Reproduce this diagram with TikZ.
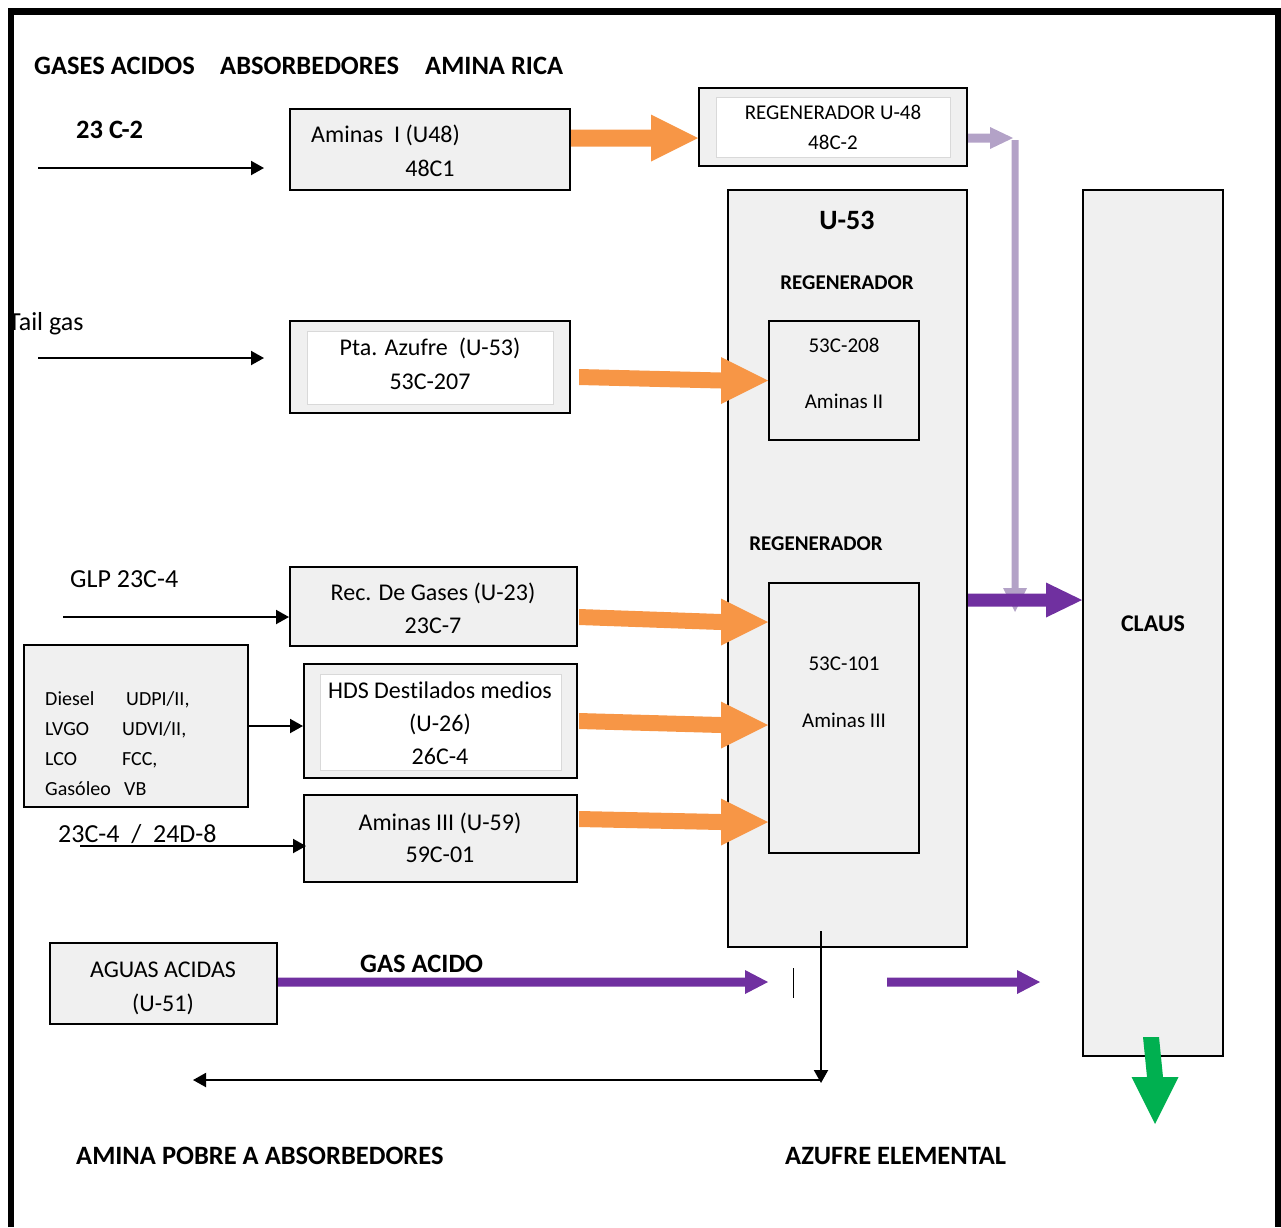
\documentclass[tikz,border=0pt]{standalone}
\usepackage{fontspec}
\setmainfont[Ligatures=NoCommon]{Carlito}
\usetikzlibrary{arrows.meta,calc}
\definecolor{boxgray}{HTML}{F0F0F0}
\definecolor{innergray}{HTML}{D9D9D9}
\definecolor{orangeA}{HTML}{F79646}
\definecolor{purpleA}{HTML}{7030A0}
\definecolor{lilacA}{HTML}{B3A2C7}
\definecolor{greenA}{HTML}{00B050}
% block arrow, horizontal (pointing right): from, to, colour, shaft half, head length, head half
\newcommand\blockH[6]{\fill[#3] ($(#1)+(0,#4)$) -- ($(#2)+(-#5,#4)$) -- ($(#2)+(-#5,#6)$) -- (#2) -- ($(#2)+(-#5,-#6)$) -- ($(#2)+(-#5,-#4)$) -- ($(#1)+(0,-#4)$) -- cycle;}
% block arrow, vertical (pointing down)
\newcommand\blockV[6]{\fill[#3] ($(#1)+(-#4,0)$) -- ($(#2)+(-#4,-#5)$) -- ($(#2)+(-#6,-#5)$) -- (#2) -- ($(#2)+(#6,-#5)$) -- ($(#2)+(#4,-#5)$) -- ($(#1)+(#4,0)$) -- cycle;}
\tikzset{
  box/.style={draw, line width=2pt, fill=boxgray, rectangle, inner sep=0pt},
  innerbox/.style={draw=innergray, line width=1pt, fill=white, rectangle, inner sep=0pt},
  txtc/.style={inner sep=0pt, anchor=base},
  txtl/.style={inner sep=0pt, anchor=base west},
  fa/.style={font=\fontsize{24}{28}\selectfont},
  flab/.style={font=\fontsize{26}{30}\selectfont},
  fb/.style={font=\fontsize{21}{25}\selectfont},
  fc/.style={font=\fontsize{20}{24}\selectfont},
  fbold/.style={font=\fontsize{26.5}{30}\selectfont\bfseries},
  fboldsm/.style={font=\fontsize{21}{25}\selectfont\bfseries},
  flow/.style={line width=2pt, -{Triangle[length=13pt,width=14pt]}},
  frame/.style={line width=6.5pt}
}
\begin{document}
\begin{tikzpicture}[x=1pt,y=-1pt]
\useasboundingbox (0,0) rectangle (1281,1227);

% ---------- boxes ----------
\node[box, minimum width=280, minimum height=81] (a1) at (430,149.5) {};
\node[box, minimum width=268, minimum height=78] (reg48) at (833,127) {};
\node[innerbox, minimum width=234, minimum height=60] (reg48i) at (833,127) {};
\node[box, minimum width=239, minimum height=757] (u53) at (847.5,568.5) {};
\node[box, minimum width=150, minimum height=119] (b208) at (844,380.5) {};
\node[box, minimum width=150, minimum height=270] (b101) at (844,718) {};
\node[box, minimum width=140, minimum height=866] (claus) at (1153,623) {};
\node[box, minimum width=280, minimum height=92] (pta) at (430,367) {};
\node[innerbox, minimum width=246, minimum height=73] (ptai) at (430,367.5) {};
\node[box, minimum width=287, minimum height=79] (rec) at (433.5,606.5) {};
\node[box, minimum width=224, minimum height=162] (diesel) at (136,726) {};
\node[box, minimum width=273, minimum height=114] (hds) at (440.5,721) {};
\node[innerbox, minimum width=241, minimum height=96] (hdsi) at (440.5,722) {};
\node[box, minimum width=273, minimum height=87] (u59) at (440.5,838.5) {};
\node[box, minimum width=227, minimum height=81] (aguas) at (163.5,983.5) {};

% ---------- texts ----------
\node[txtl, fbold] (h1) at (34,74.5) {GASES ACIDOS};
\node[txtl, fbold] (h2) at (220,74.5) {ABSORBEDORES};
\node[txtl, fbold] (h3) at (425,74.5) {AMINA RICA};
\node[txtl, fbold] (l1) at (76,138.5) {23 C-2};
\node[txtl, fa] (a1t1) at (311,142) {Aminas\ \ I (U48)};
\node[txtc, fa] (a1t2) at (430,176) {48C1};
\node[txtc, fb] (r48t1) at (833,119) {REGENERADOR U-48};
\node[txtc, fb] (r48t2) at (833,149) {48C-2};
\node[txtc, font=\fontsize{28}{32}\selectfont\bfseries] (u53t) at (847,229) {U-53};
\node[txtc, fboldsm] (reg1) at (847,289) {REGENERADOR};
\node[txtc, fb] (b208t1) at (844,352) {53C-208};
\node[txtc, fb] (b208t2) at (844,408) {Aminas II};
\node[txtc, fboldsm] (reg2) at (816,550) {REGENERADOR};
\node[txtc, fb] (b101t1) at (844,670) {53C-101};
\node[txtc, fb] (b101t2) at (844,727) {Aminas III};
\node[txtc, font=\fontsize{24}{28}\selectfont\bfseries] (claust) at (1153,631) {CLAUS};
\node[txtl, flab] (l2) at (8,330.5) {Tail gas};
\node[txtc, fa] (ptat1) at (430,355) {Pta. Azufre\ \ (U-53)};
\node[txtc, fa] (ptat2) at (430,389) {53C-207};
\node[txtl, flab] (l3) at (70,587.5) {GLP 23C-4};
\node[txtc, fa] (rect1) at (433,600) {Rec. De Gases (U-23)};
\node[txtc, fa] (rect2) at (433,633) {23C-7};
\node[txtl, fc] (d1) at (45,705) {\makebox[81pt][l]{Diesel}UDPI/II,};
\node[txtl, fc] (d2) at (45,735) {\makebox[77pt][l]{LVGO}UDVI/II,};
\node[txtl, fc] (d3) at (45,765) {\makebox[77pt][l]{LCO}FCC,};
\node[txtl, fc] (d4) at (45,795) {\makebox[79pt][l]{Gasóleo}VB};
\node[txtc, fa] (hdst1) at (440,698) {HDS Destilados medios};
\node[txtc, fa] (hdst2) at (440,731) {(U-26)};
\node[txtc, fa] (hdst3) at (440,764) {26C-4};
\node[txtl, flab] (l4) at (58,842.5) {23C-4\ \ /\ \ 24D-8};
\node[txtc, fa] (u59t1) at (440,830) {Aminas III (U-59)};
\node[txtc, fa] (u59t2) at (440,862) {59C-01};
\node[txtc, fa] (agt1) at (163,977) {AGUAS ACIDAS};
\node[txtc, fa] (agt2) at (163,1011) {(U-51)};
\node[txtl, fbold] (gas) at (360,972) {GAS ACIDO};
\node[txtl, fbold] (pobre) at (76,1164) {AMINA POBRE A ABSORBEDORES};
\node[txtl, fbold] (azufre) at (785,1164) {AZUFRE ELEMENTAL};

% ---------- free coordinates ----------
\coordinate (in1) at (38,168);
\coordinate (in2) at (38,358);
\coordinate (in3) at (63,617);
\coordinate (in5) at (80,846);
\coordinate (lil1) at (1013,138);
\coordinate (lil2) at (1015,140);
\coordinate (lil3) at (1015,612);
\coordinate (ga1) at (768,982);
\coordinate (ga2) at (887,982);
\coordinate (ga3) at (1040,982);
\coordinate (uout) at ($(u53.south)+(-26.5,-17)$);
\coordinate (ret) at (821,1083);
\coordinate (retstart) at (821,1080);
\coordinate (retend) at (193,1080);
\coordinate (gr1) at ($(claus.south)+(-2,-20)$);
\coordinate (gr2) at (1155,1124);

% ---------- black connectors ----------
\draw[flow] (in1) -- ($(a1.west)+(-25,18.5)$);
\draw[flow] (in2) -- ($(pta.west)+(-25,-9)$);
\draw[flow] (in3) -- ($(rec.west)+(0,10.5)$);
\draw[flow] (diesel.east) -- (diesel.east -| hds.west);
\draw[flow] (in5) -- ($(u59.west)+(3,7.5)$);

% ---------- orange arrows ----------
\blockH{$(a1.east)+(0,-11.5)$}{$(reg48.west)+(0,11)$}{orangeA}{8.5}{47}{23.5}
\blockH{$(pta.east)+(8,10)$}{b208.west}{orangeA}{8}{47}{23.5}
\blockH{$(rec.east)+(1,10.5)$}{$(b101.west)+(0,-96)$}{orangeA}{8}{47}{23.5}
\blockH{$(hds.east)+(1,0)$}{$(b101.west)+(0,7)$}{orangeA}{8}{47}{23.5}
\blockH{$(u59.east)+(1,-19.5)$}{$(b101.west)+(0,104)$}{orangeA}{8}{47}{23.5}

% ---------- lilac arrows ----------
\blockH{$(reg48.east)+(0,11)$}{lil1}{lilacA}{4.5}{23}{11}
\blockV{lil2}{lil3}{lilacA}{3.5}{24}{12}

% ---------- purple arrows ----------
\blockH{$(u53.east)+(0,31.5)$}{$(claus.west)+(0,-23)$}{purpleA}{6.5}{36}{17.5}
\blockH{$(aguas.east)+(0,-1.5)$}{ga1}{purpleA}{4.5}{23}{12}
\blockH{ga2}{ga3}{purpleA}{4.5}{23}{12}
\draw[line width=1pt] (793,968) -- (793,998);

% ---------- return line ----------
\draw[flow] (uout) -- (ret);
\draw[flow] (retstart) -- (retend);

% ---------- green arrow ----------
\blockV{gr1}{gr2}{greenA}{8}{47}{23.5}

% ---------- frame ----------
\draw[frame] (11,1227) -- (11,11.5) -- (1278,11.5) -- (1278,1227);
\end{tikzpicture}
\end{document}
